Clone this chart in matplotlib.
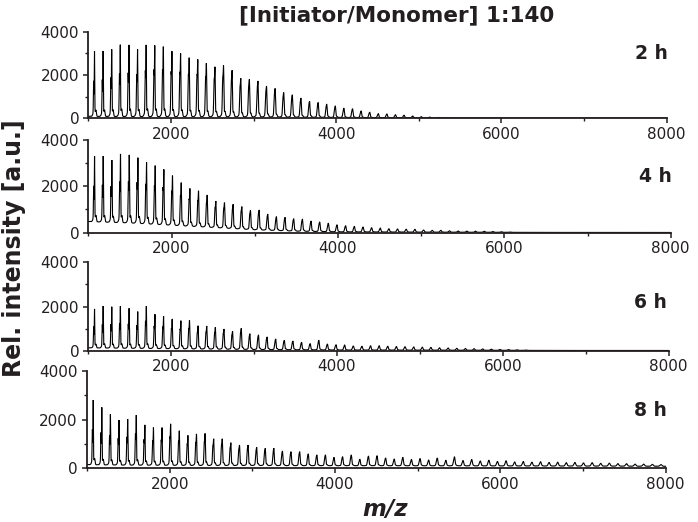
import numpy as np
import matplotlib
matplotlib.use("Agg")
import matplotlib.pyplot as plt
from matplotlib.ticker import FixedLocator

# ---------------- data ----------------
title = "[Initiator/Monomer] 1:140"
panel_labels = ["2 h", "4 h", "6 h", "8 h"]
x_major = [2000, 4000, 6000, 8000]
x_minor = [1000, 3000, 5000, 7000]
y_major = [0, 2000, 4000]
y_minor = [1000, 3000]

# oligomer series positions (m/z)
peak_mz = [1075, 1179, 1283, 1387, 1492, 1596, 1700, 1804, 1908, 2012,
           2117, 2221, 2325, 2429, 2533, 2637, 2741, 2846, 2950, 3054,
           3158, 3262, 3366, 3470, 3575, 3679, 3783, 3887, 3991, 4095,
           4200, 4304, 4408, 4512, 4616, 4720, 4824, 4929, 5033, 5137,
           5241, 5345, 5449, 5553, 5658, 5762, 5866, 5970, 6074, 6178,
           6282, 6387, 6491, 6595, 6699, 6803, 6907, 7011, 7116, 7220,
           7324, 7428, 7532, 7636, 7740, 7845, 7949]

# peak top intensities
h_2h = [3100, 3110, 3190, 3400, 3390, 3190, 3390, 3370, 3310, 3100,
        3000, 2800, 2720, 2550, 2380, 2440, 2220, 1850, 1800, 1720,
        1490, 1380, 1190, 1080, 930, 790, 730, 650, 570, 470,
        440, 340, 280, 215, 200, 165, 140, 105, 75, 55,
        40, 30, 20, 15]
h_4h = [3290, 3290, 3120, 3380, 3340, 3220, 3030, 2880, 2720, 2450,
        2150, 1900, 1800, 1620, 1360, 1290, 1220, 1120, 960, 970,
        800, 690, 660, 600, 580, 500, 460, 410, 340, 300,
        270, 245, 215, 200, 170, 160, 150, 145, 115, 100,
        100, 80, 75, 70, 65, 60, 50, 40, 30]
h_6h = [1890, 2020, 1990, 2020, 1920, 1770, 2020, 1650, 1560, 1430,
        1360, 1380, 1130, 1120, 1060, 980, 880, 1010, 770, 710,
        620, 530, 470, 440, 380, 320, 470, 300, 270, 260,
        215, 200, 225, 225, 200, 190, 180, 170, 160, 150,
        130, 120, 110, 100, 90, 80, 70, 60, 50, 40, 30]
h_8h = [2800, 2500, 2210, 1980, 2020, 2180, 1780, 1670, 1670, 1820,
        1540, 1350, 1410, 1430, 1210, 1210, 1050, 955, 955, 860,
        820, 820, 710, 680, 680, 590, 545, 545, 450, 475,
        545, 370, 500, 515, 420, 380, 450, 360, 400, 340,
        420, 330, 470, 320, 360, 300, 330, 280, 310, 260,
        280, 250, 270, 240, 250, 230, 240, 220, 230, 200,
        210, 190, 190, 170, 170, 160, 150]

# background level under the peaks
bg_mz = [1000, 1500, 2000, 2500, 3000, 3500, 4000, 5000, 6000, 7000, 8000]
bg_2h = [90, 80, 70, 60, 50, 40, 30, 20, 10, 10, 10]
bg_4h = [480, 420, 320, 220, 120, 60, 30, 20, 15, 10, 10]
bg_6h = [130, 110, 90, 70, 50, 35, 25, 20, 15, 10, 10]
bg_8h = [150, 130, 120, 110, 110, 100, 100, 95, 90, 85, 80]

heights = [h_2h, h_4h, h_6h, h_8h]
backgrounds = [bg_2h, bg_4h, bg_6h, bg_8h]

# ---------------- layout (pixels) ----------------
W, H = 698, 522
boxes = [(88.3, 666.7, 31.7, 118.3),
         (88.3, 670.7, 139.5, 232.7),
         (88.3, 668.5, 262.3, 350.7),
         (87.0, 665.5, 370.7, 468.3)]
label_pos = [(668, 53.5), (672, 176.5), (667, 303), (667, 410)]

text_color = "#231f20"
plt.rcParams["font.family"] = ["DejaVu Sans"]

fig = plt.figure(figsize=(W / 100, H / 100), dpi=100)


def spectrum(hs, bg):
    x = np.arange(1000.0, 8000.01, 0.5)
    y = np.interp(x, bg_mz, bg)
    for m, h in zip(peak_mz, hs):
        b = np.interp(m, bg_mz, bg)
        a = max(h - b, 0.0)
        s = 1.6 + m * 0.0009
        frac = 0.5 + 0.35 * min(max((m - 1000.0) / 2000.0, 0.0), 1.0)
        shape = (np.exp(-0.5 * ((x - m) / s) ** 2)
                 + frac * np.exp(-0.5 * ((x - (m - 10)) / (1.2 * s)) ** 2)
                 + 0.10 * np.exp(-0.5 * ((x - (m - 3)) / (5 * s)) ** 2)
                 + 0.08 * np.exp(-0.5 * ((x - (m + 18)) / 5.0) ** 2))
        y = y + a * shape / shape.max()
    return x, y


for i, (l, r, t, b) in enumerate(boxes):
    ax = fig.add_axes([l / W, 1 - b / H, (r - l) / W, (b - t) / H])
    x, y = spectrum(heights[i], backgrounds[i])
    ax.plot(x, y, color="black", lw=0.8, solid_joinstyle="miter")
    ax.set_xlim(1000, 8000)
    ax.set_ylim(0, 4000)
    for sp in ("top", "right"):
        ax.spines[sp].set_visible(False)
    for sp in ("left", "bottom"):
        ax.spines[sp].set_linewidth(1.3)
        ax.spines[sp].set_color(text_color)
    ax.xaxis.set_major_locator(FixedLocator(x_major))
    ax.xaxis.set_minor_locator(FixedLocator(x_minor))
    ax.yaxis.set_major_locator(FixedLocator(y_major))
    ax.yaxis.set_minor_locator(FixedLocator(y_minor))
    ax.tick_params(which="major", direction="out", length=3.6, width=1.1,
                   colors=text_color, labelsize=11)
    ax.tick_params(which="minor", direction="out", length=2.2, width=1.0,
                   colors=text_color)
    ax.tick_params(axis="y", which="major", pad=3)
    ax.tick_params(axis="x", which="major", pad=2.5)
    ax.patch.set_alpha(0)
    lx, ly = label_pos[i]
    fig.text(lx / W, 1 - ly / H, panel_labels[i], ha="right", va="center",
             fontsize=13.5, fontweight="bold", color=text_color)

fig.text(397 / W, 1 - 15 / H, title, ha="center", va="center",
         fontsize=15.5, fontweight="bold", color=text_color)
fig.text(14 / W, 1 - 248 / H, "Rel. intensity [a.u.]", rotation=90,
         ha="center", va="center", fontsize=17, fontweight="bold",
         color=text_color)
fig.text(385 / W, 1 - 509 / H, "m/z", ha="center", va="center",
         fontsize=16.5, fontweight="bold", fontstyle="italic",
         color=text_color)

fig.savefig("out.png", dpi=100)
